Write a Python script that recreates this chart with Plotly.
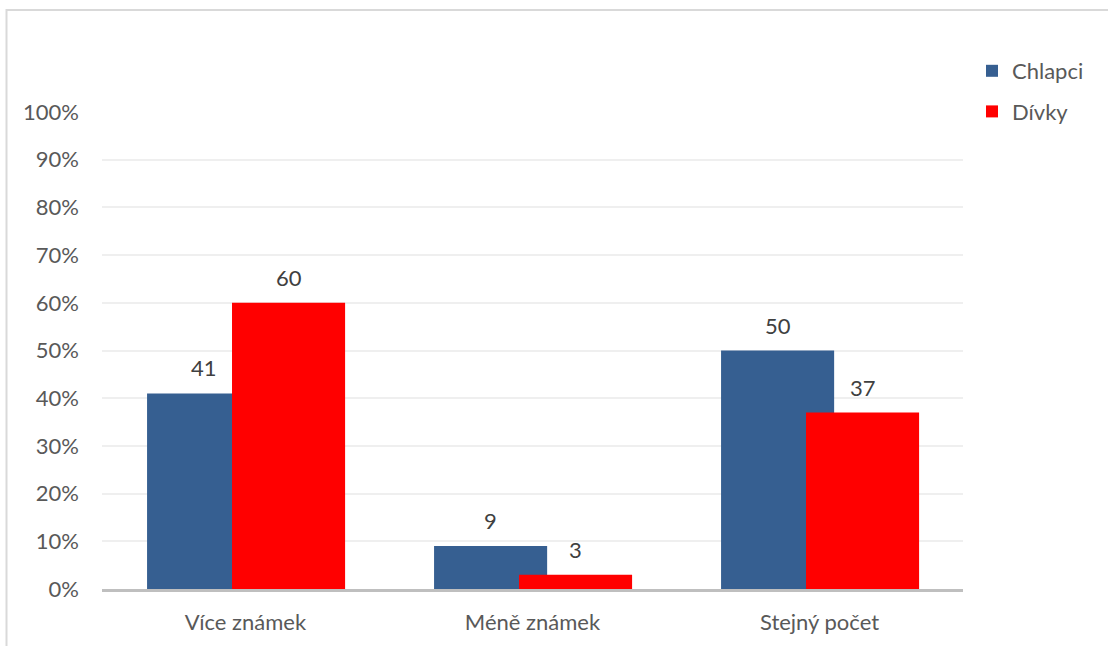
import plotly.graph_objects as go

categories = ["Více známek", "Méně známek", "Stejný počet"]
chlapci = [41, 9, 50]
divky = [60, 3, 37]
tick_vals = [0, 10, 20, 30, 40, 50, 60, 70, 80, 90, 100]
tick_text = [f"{v}%" for v in tick_vals]

BLUE = "#365f91"
RED = "#ff0000"
TXT = "#595959"
FONT = "Lato, 'Open Sans', sans-serif"
FS = 22

W, H = 1108, 646
L, R, T, B = 102, 145, 112, 57

bar_w = 0.394
off_blue = -0.343
off_red = -0.047

fig = go.Figure()
fig.add_trace(go.Bar(
    x=categories, y=chlapci, name="Chlapci", marker_color=BLUE,
    width=bar_w, offset=off_blue, marker_line_width=0, legendgroup="a",
))
fig.add_trace(go.Bar(
    x=categories, y=divky, name="Dívky", marker_color=RED,
    width=bar_w, offset=off_red, marker_line_width=0, legendgroup="b",
))

# value labels above each bar
for vals, off in ((chlapci, off_blue), (divky, off_red)):
    for i, v in enumerate(vals):
        fig.add_annotation(
            x=i + off + bar_w / 2, y=v, text=str(v), showarrow=False,
            yanchor="bottom", yshift=10, font=dict(size=FS, color="#404040", family=FONT),
        )

pw = W - L - R
ph = H - T - B
fig.add_shape(
    type="rect", xref="paper", yref="paper",
    x0=(6.5 - L) / pw, x1=(W + 20 - L) / pw,
    y0=(H - B - (H + 20)) / ph, y1=(H - B - 10) / ph,
    line=dict(color="#d9d9d9", width=2), fillcolor="rgba(0,0,0,0)", layer="below",
)

fig.update_layout(
    width=W, height=H,
    margin=dict(l=L, r=R, t=T, b=B),
    paper_bgcolor="white", plot_bgcolor="white",
    barmode="overlay",
    font=dict(family=FONT, size=FS, color=TXT),
    showlegend=True,
    legend=dict(
        x=(972 - L) / pw, xanchor="left", y=(H - B - 50) / ph, yanchor="top",
        font=dict(size=FS, color=TXT), traceorder="grouped", tracegroupgap=9,
        itemwidth=30, bgcolor="rgba(0,0,0,0)",
    ),
    xaxis=dict(
        showgrid=False, showline=True, linecolor="#bfbfbf", linewidth=3,
        ticks="", tickfont=dict(size=FS, color=TXT), ticklabelstandoff=12,
        range=[-0.5, 2.5], fixedrange=True,
    ),
    yaxis=dict(
        range=[0, 100], tickvals=tick_vals, ticktext=tick_text,
        showgrid=True, gridcolor="#efefef", gridwidth=1.5, zeroline=False,
        showline=False, ticks="", tickfont=dict(size=FS, color=TXT),
        ticklabelstandoff=22,
    ),
)

fig.write_html("out.html")
